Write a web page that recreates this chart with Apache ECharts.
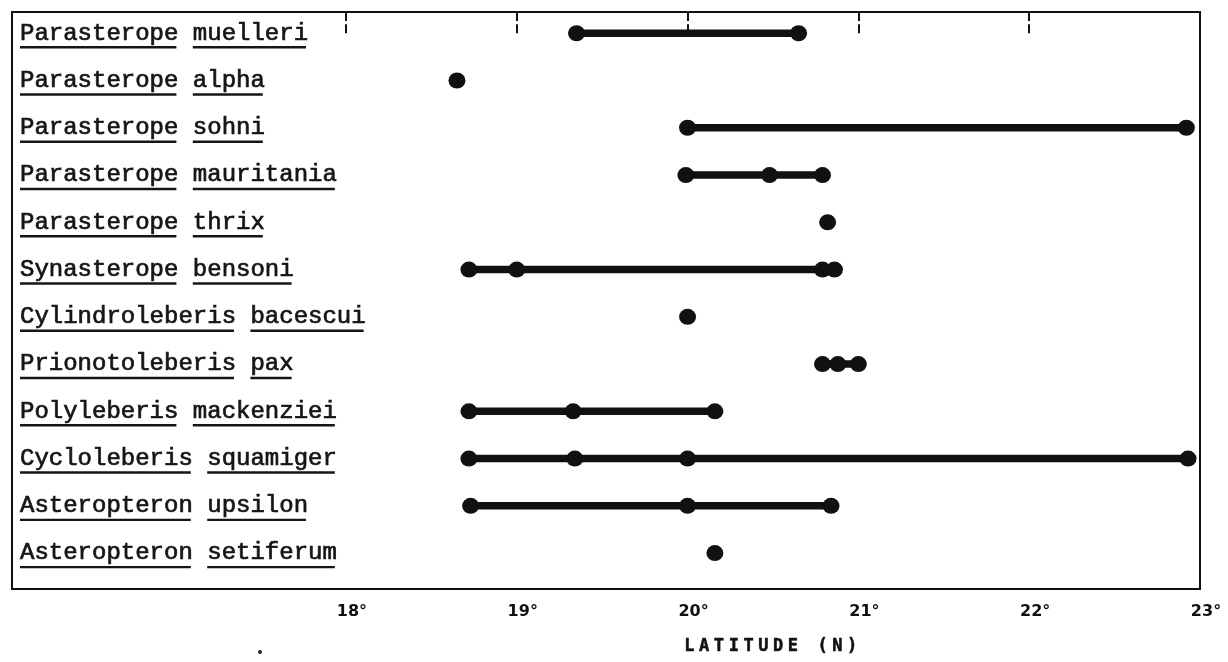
<!DOCTYPE html>
<html>
<head>
<meta charset="utf-8">
<script src="https://cdn.jsdelivr.net/npm/echarts@6/dist/echarts.min.js"></script>
<style>
html,body{margin:0;padding:0;background:#fff;}
#chart{width:1228px;height:662px;}
</style>
</head>
<body>
<div id="chart"></div>
<script>
// Species (genus, species) top to bottom
const genera = ['Parasterope','Parasterope','Parasterope','Parasterope','Parasterope','Synasterope','Cylindroleberis','Prionotoleberis','Polyleberis','Cycloleberis','Asteropteron','Asteropteron'];
const epithets = ['muelleri','alpha','sohni','mauritania','thrix','bensoni','bacescui','pax','mackenziei','squamiger','upsilon','setiferum'];
// Latitudes (°N) of records for each species
const latitudes = [
  [19.35, 20.65],
  [18.65],
  [20.00, 22.92],
  [19.99, 20.48, 20.79],
  [20.82],
  [18.72, 19.00, 20.79, 20.86],
  [20.00],
  [20.79, 20.88, 21.00],
  [18.72, 19.33, 20.16],
  [18.72, 19.34, 20.00, 22.93],
  [18.73, 20.00, 20.84],
  [20.16]
];
const tickValues = [18, 19, 20, 21, 22];
const labelValues = [18, 19, 20, 21, 22, 23];
const axisTitle = 'LATITUDE (N)';
const xMin = 16.045, xMax = 23;

const chart = echarts.init(document.getElementById('chart'), null, {renderer: 'canvas'});

const FS = 24;
const CW = FS * 0.6;

const series = latitudes.map((vals, i) => ({
  type: 'line',
  data: vals.map(v => [v, i]),
  symbol: 'circle',
  symbolSize: [17, 16],
  showSymbol: true,
  itemStyle: {color: '#111'},
  lineStyle: {color: '#111', width: 7.5, cap: 'round'},
  animation: false,
  silent: true,
  z: 3
}));

series.push({
  type: 'custom',
  animation: false,
  silent: true,
  data: genera.map((g, i) => [xMin, i]),
  renderItem: function (params, api) {
    const i = api.value(1);
    const pt = api.coord([xMin, i]);
    const x = params.coordSys.x + 8;
    const y = pt[1];
    const g = genera[i], s = epithets[i];
    const ul = y + 14;
    const sx = x + (g.length + 1) * CW;
    return {
      type: 'group',
      children: [
        {type: 'text', style: {text: g + ' ' + s, x: x, y: y, verticalAlign: 'middle', align: 'left',
          font: FS + 'px "Liberation Mono", monospace', fill: '#151515', stroke: '#151515', lineWidth: 0.7}},
        {type: 'line', shape: {x1: x, y1: ul, x2: x + g.length * CW - 2, y2: ul}, style: {stroke: '#151515', lineWidth: 2.4}},
        {type: 'line', shape: {x1: sx, y1: ul, x2: sx + s.length * CW - 2, y2: ul}, style: {stroke: '#151515', lineWidth: 2.4}}
      ]
    };
  }
});

const titleLetters = axisTitle.split('').map((ch, k) => ({
  type: 'text', x: k * 14.8, y: 0,
  style: {text: ch, font: 'bold 17px "DejaVu Sans Mono"', fill: '#111', stroke: '#111', lineWidth: 0.5}
}));

chart.setOption({
  animation: false,
  backgroundColor: '#fff',
  grid: {left: 12, top: 12, right: 28, bottom: 73, show: true, borderColor: '#111', borderWidth: 2, backgroundColor: 'transparent'},
  xAxis: [
    {
      type: 'value', position: 'bottom', min: xMin, max: xMax,
      axisLine: {show: false},
      splitLine: {show: false},
      axisTick: {show: true, inside: true, length: 9, customValues: tickValues, lineStyle: {color: '#111', width: 2}},
      axisLabel: {show: true, margin: 15, customValues: labelValues, formatter: v => v + '°',
        color: '#111', fontFamily: 'DejaVu Sans', fontWeight: 'bold', fontSize: 16, padding: [0, 0, 0, 12]}
    },
    {
      type: 'value', position: 'top', min: xMin, max: xMax,
      axisLine: {show: false},
      splitLine: {show: false},
      axisTick: {show: true, inside: true, length: 9, customValues: tickValues, lineStyle: {color: '#111', width: 2}},
      axisLabel: {show: false}
    }
  ],
  yAxis: {
    type: 'value', inverse: true, min: -0.45, max: 11.76,
    show: false, splitLine: {show: false}
  },
  graphic: [
    {type: 'group', left: 684, top: 638, children: titleLetters},
    {type: 'circle', shape: {cx: 260, cy: 652, r: 2}, style: {fill: '#222'}}
  ],
  series: series
});
</script>
</body>
</html>
